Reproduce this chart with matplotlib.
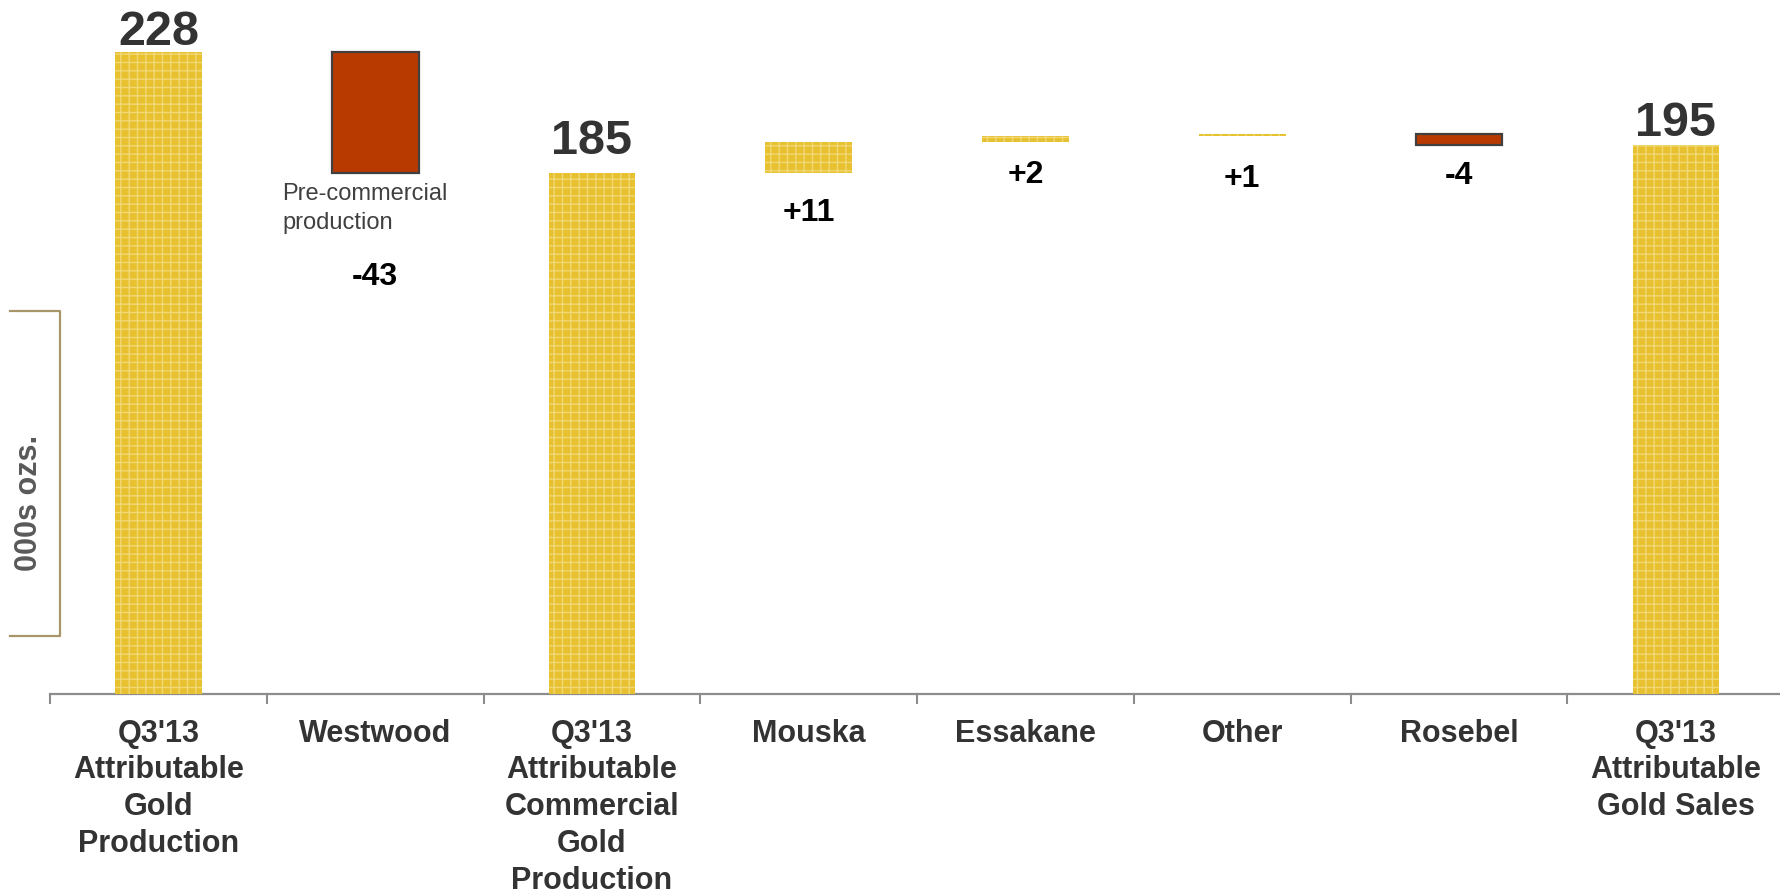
import numpy as np
import matplotlib.pyplot as plt
from matplotlib.lines import Line2D

plt.rcParams["font.family"] = ["Liberation Sans", "DejaVu Sans"]
plt.rcParams["hatch.linewidth"] = 1.0

categories = [
    "Q3'13\nAttributable\nGold\nProduction",
    "Westwood",
    "Q3'13\nAttributable\nCommercial\nGold\nProduction",
    "Mouska",
    "Essakane",
    "Other",
    "Rosebel",
    "Q3'13\nAttributable\nGold Sales",
]
values = [228, -43, 185, 11, 2, 1, -4, 195]
is_total = [True, False, True, False, False, False, False, True]
value_labels = ["228", "-43", "185", "+11", "+2", "+1", "-4", "195"]

# label offset from bar top (totals) or bar bottom (changes), in points
label_offsets = [5, 75, 14, 29, 23.5, 30.5, 22.5, 6.5]

GOLD = "#E7C130"
GOLD_HATCH = "#F1D875"
RED = "#B83A00"

# waterfall geometry
bottoms, heights = [], []
running = 0
for v, tot in zip(values, is_total):
    if tot:
        bottoms.append(0)
        heights.append(v)
        running = v
    else:
        bottoms.append(running + min(v, 0))
        heights.append(abs(v))
        running += v

fig = plt.figure(figsize=(17.8, 8.93), dpi=100)
ax = fig.add_axes([50 / 1780, 1 - 693.6 / 893, 0.9743, 689.4 / 893])
x = np.arange(len(categories))

for i in range(len(categories)):
    if values[i] < 0 and not is_total[i]:
        ax.bar(x[i], heights[i], 0.40, bottom=bottoms[i], color=RED,
               edgecolor="#404040", linewidth=1.6, zorder=3)
    else:
        ax.bar(x[i], heights[i], 0.40, bottom=bottoms[i], color=GOLD,
               edgecolor=GOLD_HATCH, linewidth=0, hatch="++", zorder=3)

for i in range(len(categories)):
    if is_total[i]:
        ax.annotate(value_labels[i], (x[i], bottoms[i] + heights[i]),
                    xytext=(0, label_offsets[i]), textcoords="offset points",
                    ha="center", va="baseline", fontsize=35, fontweight="bold",
                    color="#333333")
    else:
        ax.annotate(value_labels[i], (x[i], bottoms[i]),
                    xytext=(0, -label_offsets[i]), textcoords="offset points",
                    ha="center", va="center", fontsize=23, fontweight="bold",
                    color="black")

ax.annotate("Pre-commercial\nproduction", (x[1], bottoms[1]),
            xytext=(-67, -7.5), textcoords="offset points", ha="left", va="top",
            fontsize=17, color="#404040", linespacing=1.38)

ax.set_xlim(-0.5, len(categories) - 0.5)
ax.set_ylim(0, 245)
ax.set_xticks(x)
ax.set_xticklabels(categories, fontsize=22, fontweight="bold", color="#333333",
                   linespacing=1.3)
ax.set_xticks(np.arange(len(categories) + 1) - 0.5, minor=True)
ax.tick_params(axis="x", which="major", length=0, pad=18)
ax.tick_params(axis="x", which="minor", length=7.5, width=1.5, color="#8c8c8c")
ax.set_yticks([])
for side in ["top", "right", "left"]:
    ax.spines[side].set_visible(False)
ax.spines["bottom"].set_color("#8c8c8c")
ax.spines["bottom"].set_linewidth(1.6)

# bracket for the unit label
px = [10 / 1780, 60 / 1780, 60 / 1780, 10 / 1780]
py = [1 - 311 / 893, 1 - 311 / 893, 1 - 636 / 893, 1 - 636 / 893]
fig.add_artist(Line2D(px, py, color="#A8956A", linewidth=1.6))
fig.text(29 / 1780, 1 - 503 / 893, "000s ozs.", rotation=90, ha="center",
         va="center", fontsize=22, fontweight="bold", color="#595959")

fig.savefig("out.png", dpi=100)
